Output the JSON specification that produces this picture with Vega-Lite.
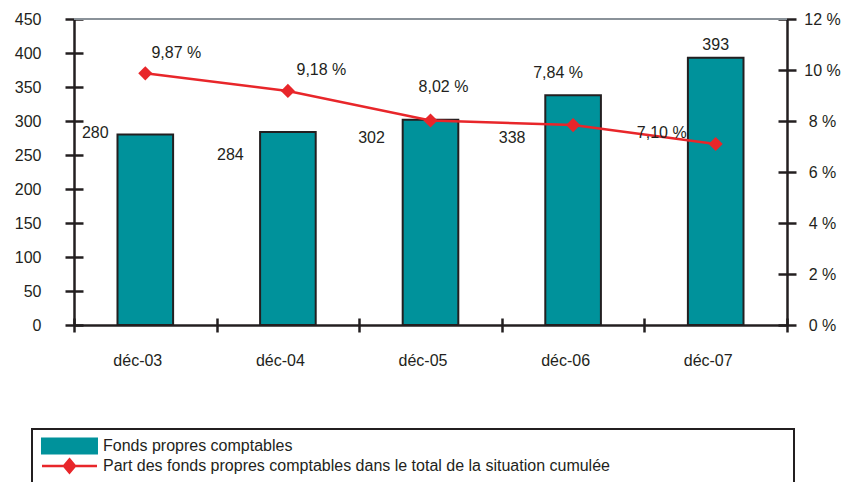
{
  "$schema": "https://vega.github.io/schema/vega-lite/v6.json",
  "width": 713,
  "height": 306,
  "autosize": "none",
  "padding": {"left": 74, "top": 19, "right": 60, "bottom": 157},
  "config": {
    "view": {"stroke": null},
    "font": "Liberation Sans",
    "locale": {"number": {"decimal": ",", "thousands": " ", "grouping": [3], "currency": ["", " %"]}},
    "axis": {
      "grid": false,
      "title": null,
      "domainColor": "#231f20",
      "domainWidth": 2.5,
      "tickColor": "#231f20",
      "tickWidth": 2.5,
      "labelFont": "Liberation Sans",
      "labelFontSize": 16,
      "labelColor": "#231f20",
      "labelOverlap": false,
      "zindex": 1
    },
    "text": {"font": "Liberation Sans", "fontSize": 16, "color": "#231f20", "baseline": "middle", "align": "center"}
  },
  "data": {
    "values": [
      {"date": "déc-03", "fonds": 280, "pct": 9.87},
      {"date": "déc-04", "fonds": 284, "pct": 9.18},
      {"date": "déc-05", "fonds": 302, "pct": 8.02},
      {"date": "déc-06", "fonds": 338, "pct": 7.84},
      {"date": "déc-07", "fonds": 393, "pct": 7.10}
    ]
  },
  "layer": [
    {
      "layer": [
        {
          "mark": {"type": "bar", "width": {"band": 0.39}, "stroke": "#231f20", "strokeWidth": 2, "opacity": 1},
          "encoding": {
            "x": {
              "field": "date", "type": "nominal", "sort": null,
              "scale": {"paddingInner": 0, "paddingOuter": 0},
              "axis": {
                "labelAngle": 0, "tickBand": "extent", "labelOffset": -8, "labelPadding": 20, "tickSize": 7,
                "encoding": {"ticks": {"y": {"value": -7}}}
              }
            },
            "y": {
              "field": "fonds", "type": "quantitative",
              "scale": {"domain": [0, 450], "nice": false},
              "axis": {"values": [0, 50, 100, 150, 200, 250, 300, 350, 400, 450], "tickSize": 9, "labelPadding": 24, "labelOverlap": false, "encoding": {"ticks": {"x": {"value": 9}}}}
            },
            "color": {
              "datum": "Fonds propres comptables",
              "scale": {
                "domain": ["Fonds propres comptables", "Part des fonds propres comptables dans le total de la situation cumulée"],
                "range": ["#00929b", "#e8262a"]
              },
              "legend": {
                "orient": "none", "legendX": -42, "legendY": 410, "title": null,
                "padding": 9, "strokeColor": "#231f20",
                "symbolSize": 3025, "labelFontSize": 16, "labelColor": "#231f20", "labelFont": "Liberation Sans",
                "labelOffset": 46, "rowPadding": -4, "labelLimit": 0,
                "symbolStrokeColor": "#231f20", "symbolStrokeWidth": 2,
                "encoding": {
                  "legend": {"strokeWidth": {"value": 2}},
                  "symbols": {
                    "shape": {"value": {"expr": "datum.value === 'Fonds propres comptables' ? 'M-0.255,-0.27H1.745V0.27H-0.255Z M26.55,0' : 'M-0.255,0H1.745M0.745,-0.24L0.945,0L0.745,0.24L0.545,0Z M26.55,0'"}},
                    "fill": {"value": {"expr": "datum.value === 'Fonds propres comptables' ? '#00929b' : '#e8262a'"}},
                    "stroke": {"value": {"expr": "datum.value === 'Fonds propres comptables' ? '#231f20' : '#e8262a'"}},
                    "strokeWidth": {"value": {"expr": "datum.value === 'Fonds propres comptables' ? 2 : 2.5"}},
                    "opacity": {"value": 1}
                  }
                }
              }
            }
          }
        },
        {
          "transform": [{"filter": "datum.date === 'déc-03'"}],
          "mark": {"type": "text", "dx": -50, "dy": -2},
          "encoding": {"x": {"field": "date", "type": "nominal", "sort": null}, "y": {"field": "fonds", "type": "quantitative", "axis": {"values": [0, 50, 100, 150, 200, 250, 300, 350, 400, 450], "tickSize": 9, "labelPadding": 24, "labelOverlap": false, "encoding": {"ticks": {"x": {"value": 9}}}}}, "text": {"field": "fonds", "type": "quantitative"}}
        },
        {
          "transform": [{"filter": "datum.date === 'déc-04'"}],
          "mark": {"type": "text", "dx": -57.5, "dy": 23},
          "encoding": {"x": {"field": "date", "type": "nominal", "sort": null}, "y": {"field": "fonds", "type": "quantitative", "axis": {"values": [0, 50, 100, 150, 200, 250, 300, 350, 400, 450], "tickSize": 9, "labelPadding": 24, "labelOverlap": false, "encoding": {"ticks": {"x": {"value": 9}}}}}, "text": {"field": "fonds", "type": "quantitative"}}
        },
        {
          "transform": [{"filter": "datum.date === 'déc-05'"}],
          "mark": {"type": "text", "dx": -59, "dy": 18},
          "encoding": {"x": {"field": "date", "type": "nominal", "sort": null}, "y": {"field": "fonds", "type": "quantitative", "axis": {"values": [0, 50, 100, 150, 200, 250, 300, 350, 400, 450], "tickSize": 9, "labelPadding": 24, "labelOverlap": false, "encoding": {"ticks": {"x": {"value": 9}}}}}, "text": {"field": "fonds", "type": "quantitative"}}
        },
        {
          "transform": [{"filter": "datum.date === 'déc-06'"}],
          "mark": {"type": "text", "dx": -61, "dy": 42.5},
          "encoding": {"x": {"field": "date", "type": "nominal", "sort": null}, "y": {"field": "fonds", "type": "quantitative", "axis": {"values": [0, 50, 100, 150, 200, 250, 300, 350, 400, 450], "tickSize": 9, "labelPadding": 24, "labelOverlap": false, "encoding": {"ticks": {"x": {"value": 9}}}}}, "text": {"field": "fonds", "type": "quantitative"}}
        },
        {
          "transform": [{"filter": "datum.date === 'déc-07'"}],
          "mark": {"type": "text", "dx": 0, "dy": -13},
          "encoding": {"x": {"field": "date", "type": "nominal", "sort": null}, "y": {"field": "fonds", "type": "quantitative", "axis": {"values": [0, 50, 100, 150, 200, 250, 300, 350, 400, 450], "tickSize": 9, "labelPadding": 24, "labelOverlap": false, "encoding": {"ticks": {"x": {"value": 9}}}}}, "text": {"field": "fonds", "type": "quantitative"}}
        }
      ]
    },
    {
      "layer": [
        {
          "transform": [{"filter": "datum.date === 'déc-03'"}],
          "mark": {"type": "rule", "color": "#8a9299", "strokeWidth": 2},
          "encoding": {"y": {"datum": 12}}
        },
        {
          "mark": {"type": "line", "strokeWidth": 2.5},
          "encoding": {
            "x": {"field": "date", "type": "nominal", "sort": null},
            "y": {
              "field": "pct", "type": "quantitative",
              "scale": {"domain": [0, 12], "nice": false},
              "axis": {
                "orient": "right",
                "values": [0, 2, 4, 6, 8, 10, 12],
                "labelExpr": "datum.value + ' %'",
                "tickSize": 9, "labelPadding": 26, "labelAlign": "center",
                "encoding": {"ticks": {"x": {"value": -9}}}
              }
            },
            "color": {"datum": "Part des fonds propres comptables dans le total de la situation cumulée"}
          }
        },
        {
          "mark": {"type": "point", "shape": "diamond", "filled": true, "size": 200, "color": "#e8262a", "opacity": 1},
          "encoding": {"x": {"field": "date", "type": "nominal", "sort": null}, "y": {"field": "pct", "type": "quantitative"}}
        },
        {
          "transform": [{"filter": "datum.date === 'déc-03'"}],
          "mark": {"type": "text", "dx": 31, "dy": -20},
          "encoding": {"x": {"field": "date", "type": "nominal", "sort": null}, "y": {"field": "pct", "type": "quantitative"}, "text": {"field": "pct", "type": "quantitative", "format": "$.2f"}}
        },
        {
          "transform": [{"filter": "datum.date === 'déc-04'"}],
          "mark": {"type": "text", "dx": 33.5, "dy": -21.4},
          "encoding": {"x": {"field": "date", "type": "nominal", "sort": null}, "y": {"field": "pct", "type": "quantitative"}, "text": {"field": "pct", "type": "quantitative", "format": "$.2f"}}
        },
        {
          "transform": [{"filter": "datum.date === 'déc-05'"}],
          "mark": {"type": "text", "dx": 13, "dy": -33},
          "encoding": {"x": {"field": "date", "type": "nominal", "sort": null}, "y": {"field": "pct", "type": "quantitative"}, "text": {"field": "pct", "type": "quantitative", "format": "$.2f"}}
        },
        {
          "transform": [{"filter": "datum.date === 'déc-06'"}],
          "mark": {"type": "text", "dx": -15, "dy": -52},
          "encoding": {"x": {"field": "date", "type": "nominal", "sort": null}, "y": {"field": "pct", "type": "quantitative"}, "text": {"field": "pct", "type": "quantitative", "format": "$.2f"}}
        },
        {
          "transform": [{"filter": "datum.date === 'déc-07'"}],
          "mark": {"type": "text", "dx": -54, "dy": -10.6},
          "encoding": {"x": {"field": "date", "type": "nominal", "sort": null}, "y": {"field": "pct", "type": "quantitative"}, "text": {"field": "pct", "type": "quantitative", "format": "$.2f"}}
        }
      ]
    }
  ],
  "resolve": {"scale": {"y": "independent"}}
}
